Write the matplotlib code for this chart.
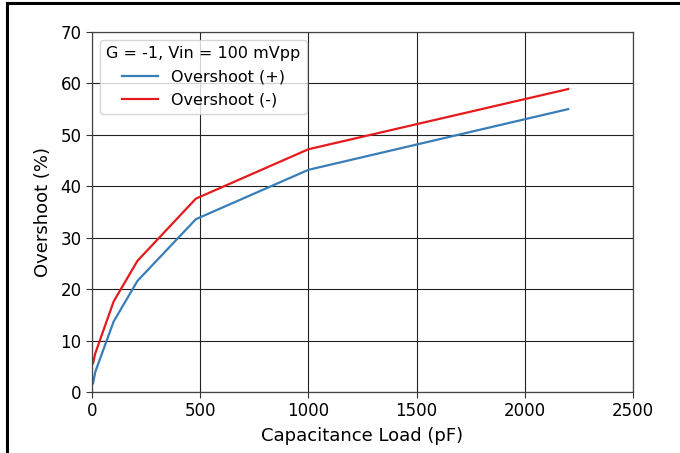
import matplotlib
matplotlib.use('Agg')
import matplotlib.pyplot as plt
from matplotlib.lines import Line2D

# capacitance load (pF) and overshoot (%)
cap_load = [5, 15, 100, 210, 480, 1000, 2200]
overshoot_pos = [1.7, 3.9, 13.7, 21.6, 33.6, 43.2, 55.0]
overshoot_neg = [5.6, 7.5, 17.6, 25.5, 37.6, 47.2, 58.9]

x_ticks = [0, 500, 1000, 1500, 2000, 2500]
y_ticks = [0, 10, 20, 30, 40, 50, 60, 70]


def main():
    fig = plt.figure(figsize=(6.8, 4.53), dpi=100)
    ax = fig.add_axes([0.1353, 0.1347, 0.7957, 0.7947])

    ax.plot(cap_load, overshoot_pos, color='#377eb8', linewidth=1.6, label='Overshoot (+)')
    ax.plot(cap_load, overshoot_neg, color='#e41a1c', linewidth=1.6, label='Overshoot (-)')

    ax.set_xlim(0, 2500)
    ax.set_ylim(0, 70)
    ax.set_xticks(x_ticks)
    ax.set_yticks(y_ticks)
    ax.tick_params(labelsize=12, color='#333333', length=4)
    ax.grid(True, color='#222222', linewidth=0.8)
    for s in ax.spines.values():
        s.set_color('#444444')
        s.set_linewidth(0.9)

    ax.set_xlabel('Capacitance Load (pF)', fontsize=13, labelpad=5)
    ax.set_ylabel('Overshoot (%)', fontsize=13, labelpad=6)

    leg = ax.legend(title='G = -1, Vin = 100 mVpp', loc='upper left', fontsize=11.5,
                    title_fontsize=11.5, labelspacing=0.5, handlelength=2.3,
                    framealpha=0.8, edgecolor='#cccccc', fancybox=True)

    # page border around the figure
    fig.add_artist(Line2D([7 / 680, 1], [1 - 3 / 453, 1 - 3 / 453], color='black', linewidth=2.2,
                          transform=fig.transFigure))
    fig.add_artist(Line2D([7 / 680, 7 / 680], [0, 1 - 3 / 453], color='black', linewidth=2.2,
                          transform=fig.transFigure))

    fig.savefig('out.png', dpi=100)


if __name__ == "__main__":
    main()
